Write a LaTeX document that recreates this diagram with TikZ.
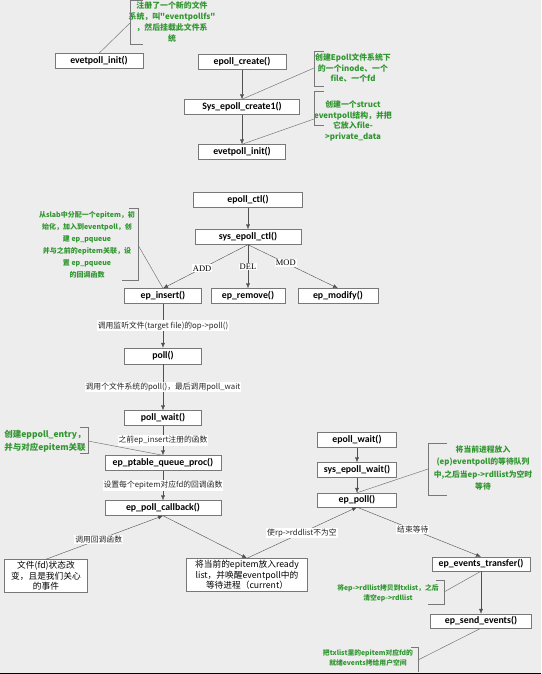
\documentclass[tikz,border=0pt]{standalone}
\usepackage{fontspec}
\setmainfont{Carlito}
\newfontfamily\cjk{Noto Sans CJK SC}
\newfontfamily\oplabel{Liberation Serif}
\usetikzlibrary{positioning,arrows.meta}

\definecolor{bggray}{RGB}{237,237,237}
\definecolor{boxgray}{RGB}{120,120,120}
\definecolor{arrowgray}{RGB}{80,80,80}
\definecolor{linkgray}{RGB}{120,120,120}
\definecolor{notegreen}{RGB}{48,150,48}

\begin{document}
\begin{tikzpicture}[x=1pt,y=-1pt,node distance=45pt,on grid,
			fn/.style={draw=boxgray, fill=white, minimum height=15pt, inner sep=1pt, font=\bfseries\fontsize{9.8}{10}\selectfont},
			txt/.style={draw=boxgray, fill=white, align=center, inner sep=2pt, font=\cjk\fontsize{8.7}{10.5}\selectfont},
			note/.style={text=notegreen, align=center, inner sep=0pt, font=\cjk\bfseries\fontsize{7.9}{10.8}\selectfont},
			lbl/.style={fill=white, inner sep=1pt, text=black!85, font=\cjk\fontsize{7.8}{8.5}\selectfont},
			op/.style={fill=white, inner sep=1pt, font=\oplabel\fontsize{8.5}{9}\selectfont},
			call/.style={draw=arrowgray, -{Latex[length=5pt,width=4pt]}},
			link/.style={draw=linkgray, line width=0.5pt}
		]
		\fill[bggray] (0,0) rectangle (541,674);
		\fill[black] (0,672.5) rectangle (541,674);
		\useasboundingbox (0,0) rectangle (541,674);
		
		% file system registration
		\node[fn, minimum width=88pt] (init_a) at (99,61) {evetpoll\_init()};
		\node[note] (n_fs) at (172,22) {注册了一个新的文件\\系统，叫"eventpollfs"\\，然后挂载此文件系\\统};
		
		% epoll_create
		\node[fn, minimum width=88pt] (create) at (242,62) {epoll\_create()};
		\node[fn, minimum width=115pt] (sys_create) [below=of create] {Sys\_epoll\_create1()};
		\node[fn, minimum width=87pt] (init_b) [below=of sys_create] {evetpoll\_init()};
		\node[note] (n_inode) at (353,68) {创建Epoll文件系统下\\的一个inode、一个\\file、一个fd};
		\node[note] (n_struct) at (353,121) {创建一个struct\\eventpoll结构，并把\\它放入file-\\>private\_data};
		
		% epoll_ctl
		\node[fn, minimum width=109pt] (ctl) at (248,200) {epoll\_ctl()};
		\node[fn, minimum width=106pt] (sys_ctl) [below=of ctl, yshift=8pt] {sys\_epoll\_ctl()};
		\node[fn, minimum width=74pt] (remove) [below=of sys_ctl, yshift=-14pt] {ep\_remove()};
		\node[fn, minimum width=77pt] (insert) [left=85pt of remove] {ep\_insert()};
		\node[fn, minimum width=80pt] (modify) [right=90pt of remove] {ep\_modify()};
		\node[note, font=\cjk\bfseries\fontsize{7}{12}\selectfont] (n_slab) at (87,245) {从slab中分配一个epitem，初\\始化，加入到eventpoll，创\\建 ep\_pqueue\\并与之前的epitem关联，设\\置 ep\_pqueue\\的回调函数};
		
		\node[fn, minimum width=77pt, minimum height=16pt] (poll) [below=of insert, yshift=-15pt] {poll()};
		\node[fn, minimum width=77pt] (poll_wait) [below=of poll, yshift=-17pt] {poll\_wait()};
		\node[fn, minimum width=116pt] (ptable) [below=of poll_wait] {ep\_ptable\_queue\_proc()};
		\node[fn, minimum width=116pt] (callback) [below=of ptable] {ep\_poll\_callback()};
		\node[note, font=\cjk\bfseries\fontsize{8.5}{13}\selectfont] (n_entry) at (45,441) {创建eppoll\_entry，\\并与对应epitem关联};
		
		\node[txt, text width=79pt] (fd_event) at (46,576) {文件(fd)状态改\\变，且是我们关心\\的事件};
		\node[txt, text width=117pt] (ready) at (247,575) {将当前的epitem放入ready\\list，并唤醒eventpoll中的\\等待进程（current）};
		
		% epoll_wait
		\node[fn, minimum width=79pt] (wait) at (357,440) {epoll\_wait()};
		\node[fn, minimum width=79pt] (sys_wait) [below=of wait, yshift=15pt] {sys\_epoll\_wait()};
		\node[fn, minimum width=79pt, minimum height=14pt] (ep_poll) [below=of sys_wait, yshift=15pt] {ep\_poll()};
		\node[note, font=\cjk\bfseries\fontsize{7.8}{12.3}\selectfont] (n_sleep) at (483,468) {将当前进程放入\\(ep)eventpoll的等待队列\\中,之后当ep->rdllist为空时\\等待};
		
		\node[fn, minimum width=98pt, minimum height=14pt] (transfer) at (481,564) {ep\_events\_transfer()};
		\node[fn, minimum width=101pt, minimum height=14pt] (send) [below=of transfer, yshift=-12pt] {ep\_send\_events()};
		\node[note, font=\cjk\bfseries\fontsize{6.8}{10}\selectfont] (n_txlist) at (388,593) {将ep->rdllist拷贝到txlist，之后\\清空ep->rdllist};
		\node[note, font=\cjk\bfseries\fontsize{6.8}{10}\selectfont] (n_user) at (368,658) {把txlist里的epitem对应fd的\\就绪events拷给用户空间};
		
		% brackets of the notes
		\coordinate (b_fs) at (130,23);
		\coordinate (b_inode) at (314,68);
		\coordinate (b_struct) at (314,119);
		\coordinate (b_slab) at (138,245);
		\coordinate (b_entry) at (88,441);
		\coordinate (b_sleep) at (428,469);
		\coordinate (b_txlist) at (444,592);
		\coordinate (b_user) at (418,660);
		\draw[link] (143,0) -- (130,0) -- (130,44) -- (143,44);
		\draw[link] (324,51) -- (314,51) -- (314,86) -- (324,86);
		\draw[link] (324,91) -- (314,91) -- (314,125) -- (324,125);
		\draw[link] (129,208) -- (138,208) -- (138,280) -- (122,280);
		\draw[link] (80,427) -- (88,427) -- (88,453) -- (80,453);
		\draw[link] (447,443) -- (428,443) -- (428,495) -- (447,495);
		\draw[link] (436,580) -- (444,580) -- (444,604) -- (428,604);
		\draw[link] (411,647) -- (418,647) -- (418,672);
		
		\draw[link] (b_fs) -- (init_a.north);
		\draw[link] (b_inode) -- (sys_create.north);
		\draw[link] (b_struct) -- (init_b.north);
		\draw[link] (b_slab) -- (insert.north);
		\draw[link] (b_entry) -- (ptable.north);
		\draw[link] (b_sleep) -- (ep_poll.north);
		\draw[link] (b_txlist) -- (transfer.south);
		\draw[link] (b_user) -- (send.south);
		
		% calls
		\draw[call] (create) -- (sys_create);
		\draw[call] (sys_create) -- (init_b);
		\draw[call] (ctl) -- (sys_ctl);
		\draw[call] (sys_ctl.south) -- (insert.north) node[op, pos=0.54] {ADD};
		\draw[call] (sys_ctl.south) -- (remove.north) node[op, midway] {DEL};
		\draw[call] (sys_ctl.south) -- (modify.north) node[op, pos=0.42] {MOD};
		\draw[call] (insert) -- (poll) node[lbl, midway] {调用监听文件(target file)的op->poll()};
		\draw[call] (poll) -- (poll_wait) node[lbl, midway] {调用个文件系统的poll()，最后调用poll\_wait};
		\draw[call] (poll_wait) -- (ptable) node[lbl, midway] {之前ep\_insert注册的函数};
		\draw[call] (ptable) -- (callback) node[lbl, midway] {设置每个epitem对应fd的回调函数};
		\draw[call] (fd_event.north) -- (callback.south) node[lbl, pos=0.45] {调用回调函数};
		\draw[call] (callback.south) -- (ready.north);
		\draw[call] (ready.north) -- (ep_poll.south) node[lbl, midway] {使rp->rddlist不为空};
		\draw[call] (wait) -- (sys_wait);
		\draw[call] (sys_wait) -- (ep_poll);
		\draw[call] (ep_poll.south) -- (transfer.north) node[lbl, pos=0.45] {结束等待};
		\draw[call] (transfer) -- (send);
	\end{tikzpicture}
\end{document}
